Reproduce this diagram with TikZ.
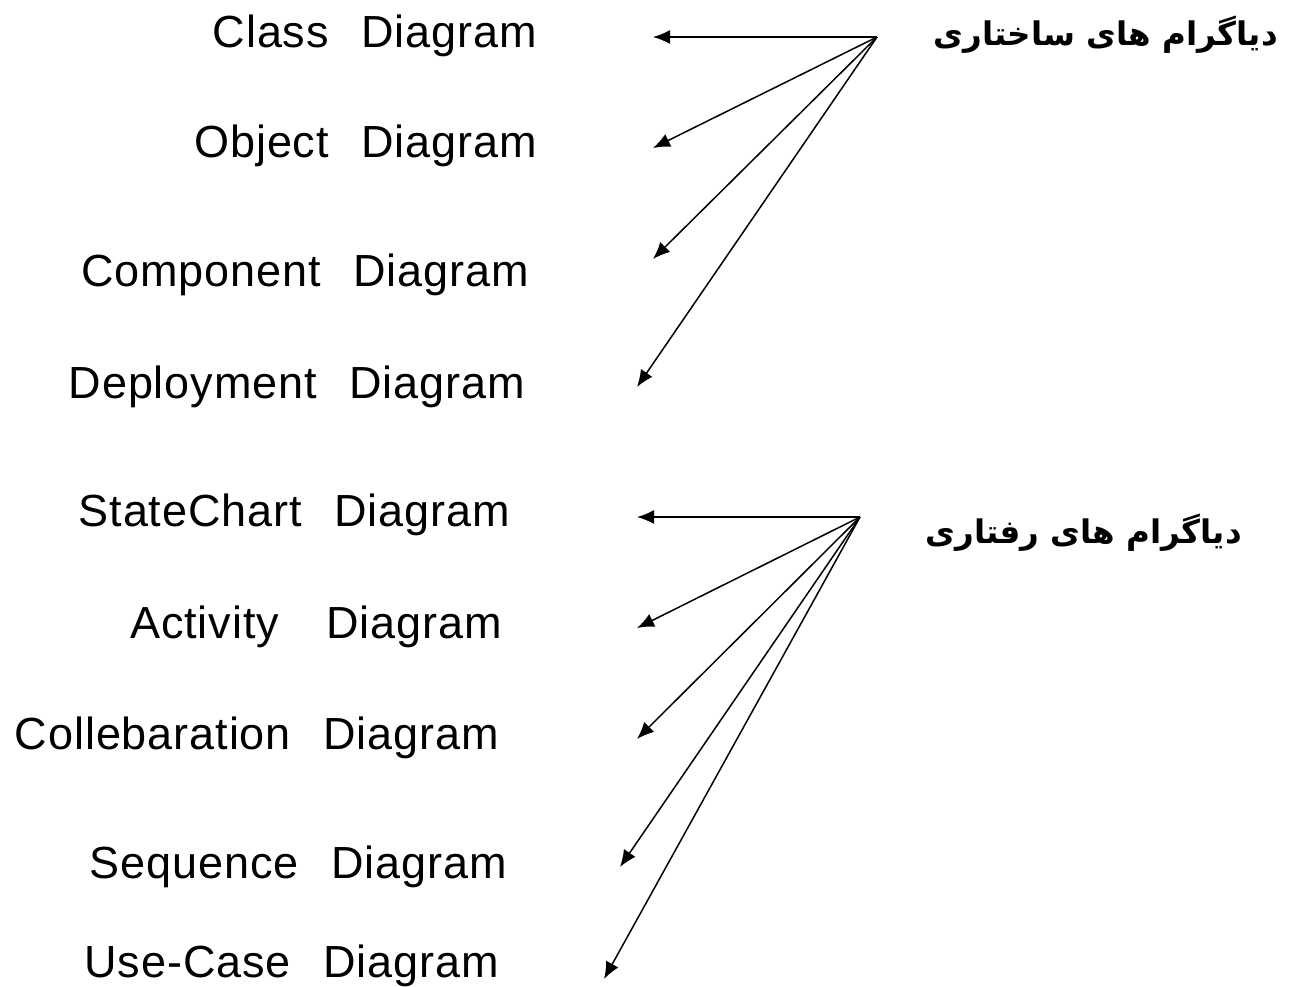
\documentclass[tikz,border=0pt]{standalone}
\usepackage{fontspec}
\setmainfont{Liberation Sans}[LetterSpace=2]
\newfontfamily\arabicfont[Script=Arabic]{DejaVu Sans}
\TeXXeTstate=1
\usetikzlibrary{arrows.meta}
\newcommand{\gp}{\hspace{0.72em}}
\begin{document}
\begin{tikzpicture}[x=1pt,y=-1pt,
  lbl/.style={anchor=base east,inner sep=0pt,font=\fontsize{45}{50}\selectfont},
  fa/.style={anchor=base east,inner sep=0pt,font=\arabicfont\bfseries\fontsize{32.5}{38}\selectfont},
  arr/.style={line width=1.5pt,-{Latex[length=17pt,width=14pt]}}]
\useasboundingbox (0,0) rectangle (1295,986);
% labels
\node[lbl] (cls) at (537,47) {Class\gp Diagram};
\node[lbl] (obj) at (537,157) {Object\gp Diagram};
\node[lbl] (cmp) at (529,286) {Component\gp Diagram};
\node[lbl] (dep) at (525,398) {Deployment\gp Diagram};
\node[lbl] (stc) at (510,526) {StateChart\gp Diagram};
\node[lbl] (act) at (502,638) {Activity\hspace{1.05em}Diagram};
\node[lbl] (col) at (499,749) {Collebaration\gp Diagram};
\node[lbl] (seq) at (507,878) {Sequence\gp Diagram};
\node[lbl] (use) at (499,977) {Use-Case\gp Diagram};
% headings
\node[fa] (h1) at (1278,45) {\beginR دیاگرام های ساختاری\endR};
\node[fa] (h2) at (1242,543) {\beginR دیاگرام های رفتاری\endR};
% arrow origins and tips
\coordinate (s1) at (877,37);
\coordinate (s2) at (860,517);
\coordinate (t1) at (653,37);
\coordinate (t2) at (653,148);
\coordinate (t3) at (653,259);
\coordinate (t4) at (637,387);
\coordinate (u1) at (637,517);
\coordinate (u2) at (637,628);
\coordinate (u3) at (637,739);
\coordinate (u4) at (620,867);
\coordinate (u5) at (604,979);
\foreach \t in {t1,t2,t3,t4} \draw[arr] (s1) -- (\t);
\foreach \t in {u1,u2,u3,u4,u5} \draw[arr] (s2) -- (\t);
\end{tikzpicture}
\end{document}
